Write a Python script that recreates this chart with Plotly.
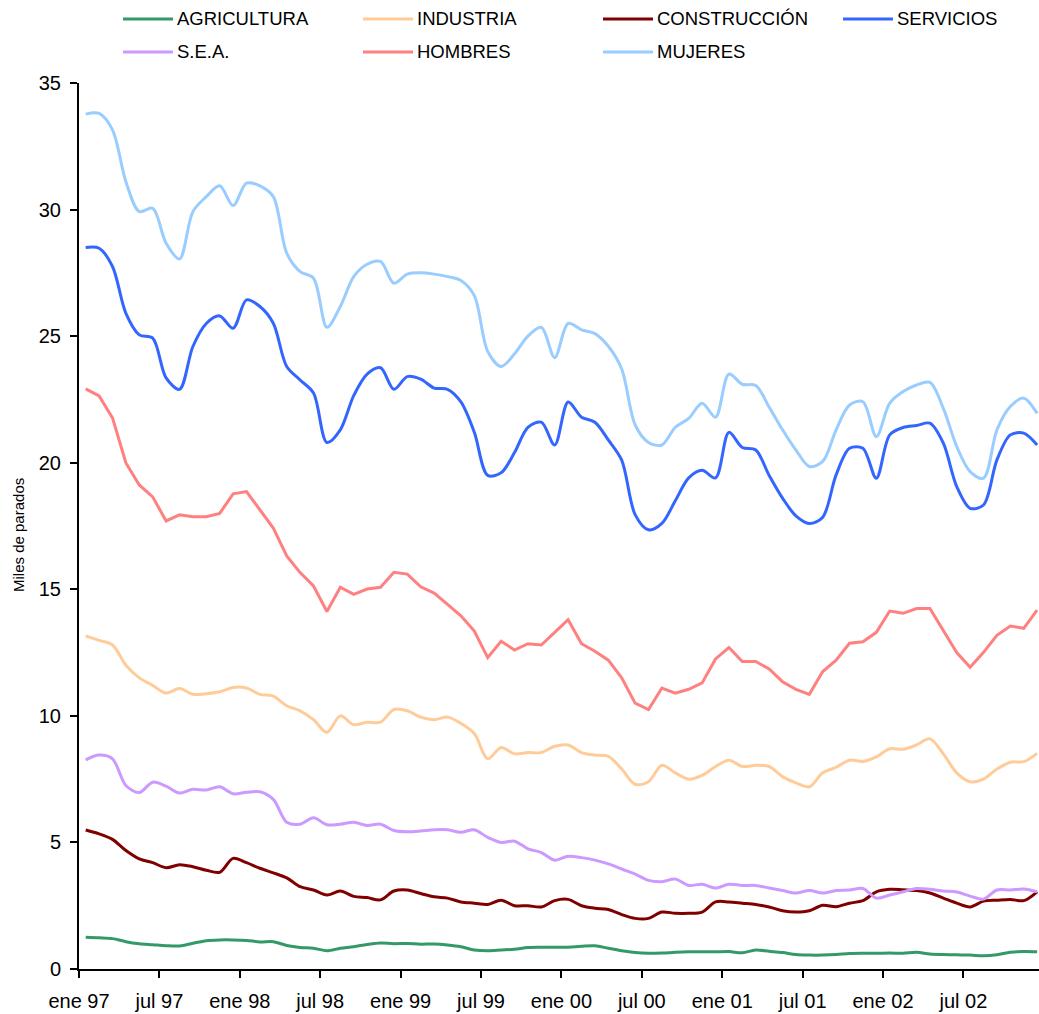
import plotly.graph_objects as go

meses = ["ene", "feb", "mar", "abr", "may", "jun", "jul", "ago", "sep", "oct", "nov", "dic"]
anios = ["97", "98", "99", "00", "01", "02"]
categorias = [f"{m} {a}" for a in anios for m in meses]
tick_labels = ["ene 97", "jul 97", "ene 98", "jul 98", "ene 99", "jul 99",
               "ene 00", "jul 00", "ene 01", "jul 01", "ene 02", "jul 02"]

agricultura = [1.25, 1.23, 1.2, 1.08, 1.0, 0.96, 0.92, 0.91, 1.02, 1.12, 1.15, 1.15,
               1.13, 1.07, 1.08, 0.93, 0.85, 0.82, 0.72, 0.82, 0.88, 0.97, 1.03, 1.0,
               1.01, 0.98, 0.99, 0.95, 0.88, 0.75, 0.72, 0.75, 0.78, 0.85, 0.86, 0.86,
               0.86, 0.9, 0.92, 0.82, 0.72, 0.65, 0.62, 0.63, 0.66, 0.68, 0.68, 0.68,
               0.69, 0.64, 0.75, 0.7, 0.65, 0.57, 0.55, 0.55, 0.57, 0.61, 0.62, 0.62,
               0.63, 0.62, 0.66, 0.59, 0.57, 0.56, 0.55, 0.52, 0.56, 0.66, 0.69, 0.68]
industria = [13.16, 12.98, 12.8, 12.0, 11.5, 11.2, 10.9, 11.08, 10.85, 10.87, 10.95, 11.12,
             11.1, 10.85, 10.78, 10.4, 10.2, 9.85, 9.35, 10.0, 9.65, 9.75, 9.75, 10.25,
             10.2, 9.95, 9.85, 9.95, 9.7, 9.3, 8.3, 8.75, 8.5, 8.55, 8.55, 8.8,
             8.85, 8.55, 8.45, 8.4, 7.9, 7.3, 7.4, 8.05, 7.75, 7.5, 7.65, 8.0,
             8.25, 8.0, 8.05, 8.0, 7.6, 7.35, 7.2, 7.75, 7.97, 8.25, 8.2, 8.38,
             8.7, 8.68, 8.85, 9.09, 8.5, 7.75, 7.4, 7.5, 7.9, 8.17, 8.19, 8.52]
construccion = [5.49, 5.34, 5.12, 4.68, 4.35, 4.2, 4.0, 4.12, 4.04, 3.9, 3.82, 4.37,
                4.2, 3.98, 3.8, 3.6, 3.25, 3.12, 2.92, 3.08, 2.87, 2.82, 2.73, 3.08,
                3.12, 2.98, 2.85, 2.8, 2.65, 2.6, 2.55, 2.72, 2.5, 2.5, 2.45, 2.7,
                2.75, 2.5, 2.4, 2.35, 2.15, 2.0, 2.0, 2.25, 2.2, 2.2, 2.25, 2.65,
                2.65, 2.6, 2.55, 2.45, 2.3, 2.25, 2.3, 2.52, 2.46, 2.6, 2.7, 3.05,
                3.15, 3.13, 3.1, 3.0, 2.8, 2.6, 2.45, 2.68, 2.72, 2.75, 2.7, 3.05]
servicios = [28.5, 28.47, 27.75, 25.9, 25.05, 24.92, 23.35, 22.9, 24.59, 25.5, 25.8, 25.31,
             26.43, 26.17, 25.51, 23.8, 23.27, 22.75, 20.8, 21.3, 22.65, 23.5, 23.75, 22.9,
             23.4, 23.3, 22.95, 22.9, 22.4, 21.2, 19.5, 19.6, 20.4, 21.4, 21.6, 20.7,
             22.4, 21.8, 21.6, 20.9, 20.1, 17.95, 17.35, 17.6, 18.5, 19.4, 19.7, 19.4,
             21.2, 20.6, 20.5, 19.5, 18.6, 17.9, 17.6, 17.85, 19.52, 20.57, 20.57, 19.39,
             21.1, 21.39, 21.47, 21.56, 20.77, 19.06, 18.2, 18.33, 20.11, 21.1, 21.17, 20.7]
sea = [8.26, 8.45, 8.3, 7.25, 6.97, 7.38, 7.22, 6.95, 7.1, 7.07, 7.2, 6.92,
       6.98, 7.0, 6.7, 5.8, 5.72, 5.97, 5.7, 5.72, 5.8, 5.67, 5.72, 5.47,
       5.42, 5.45, 5.5, 5.5, 5.4, 5.5, 5.2, 5.0, 5.05, 4.75, 4.6, 4.3,
       4.45, 4.4, 4.3, 4.15, 3.95, 3.75, 3.5, 3.45, 3.55, 3.3, 3.35, 3.2,
       3.35, 3.3, 3.3, 3.2, 3.1, 3.0, 3.1, 3.0, 3.1, 3.12, 3.18, 2.8,
       2.92, 3.05, 3.18, 3.15, 3.08, 3.04, 2.88, 2.76, 3.12, 3.12, 3.16, 3.05]
hombres = [22.92, 22.64, 21.77, 19.99, 19.12, 18.65, 17.7, 17.94, 17.87, 17.87, 18.0, 18.77,
           18.86, 18.14, 17.42, 16.32, 15.66, 15.13, 14.12, 15.08, 14.8, 15.01, 15.08, 15.67,
           15.6, 15.1, 14.85, 14.4, 13.95, 13.35, 12.3, 12.95, 12.6, 12.85, 12.8, 13.3,
           13.8, 12.85, 12.55, 12.2, 11.5, 10.5, 10.25, 11.1, 10.9, 11.05, 11.3, 12.25,
           12.7, 12.15, 12.15, 11.85, 11.35, 11.05, 10.85, 11.75, 12.2, 12.87, 12.93, 13.3,
           14.14, 14.05, 14.24, 14.24, 13.37, 12.5, 11.92, 12.51, 13.18, 13.55, 13.46, 14.18]
mujeres = [33.77, 33.8, 33.15, 31.1, 29.92, 30.05, 28.67, 28.05, 29.92, 30.51, 30.94, 30.16,
           31.04, 30.94, 30.51, 28.28, 27.55, 27.29, 25.35, 26.17, 27.35, 27.84, 27.95, 27.09,
           27.45, 27.5, 27.45, 27.35, 27.2, 26.6, 24.4, 23.8, 24.3, 25.0, 25.35, 24.15,
           25.5, 25.25, 25.1, 24.6, 23.7, 21.5, 20.8, 20.7, 21.4, 21.75, 22.35, 21.8,
           23.5, 23.1, 23.05, 22.2, 21.3, 20.5, 19.85, 20.05, 21.3, 22.28, 22.41, 21.03,
           22.35, 22.81, 23.07, 23.17, 22.15, 20.64, 19.65, 19.39, 21.3, 22.22, 22.55, 21.95]

series = [
    ("AGRICULTURA", agricultura, "#339966", "spline"),
    ("INDUSTRIA", industria, "#FFCC99", "spline"),
    ("CONSTRUCCIÓN", construccion, "#800000", "spline"),
    ("SERVICIOS", servicios, "#3366FF", "spline"),
    ("S.E.A.", sea, "#CC99FF", "spline"),
    ("HOMBRES", hombres, "#FF8080", "linear"),
    ("MUJERES", mujeres, "#99CCFF", "spline"),
]

FONT = "Liberation Sans, Arial, sans-serif"
W, H = 1039, 1014
ML, MT, MB, MR = 79, 83, 45, 0
PW = W - ML - MR
PH = H - MT - MB

x_idx = list(range(len(categorias)))
fig = go.Figure()
for name, vals, color, shape in series:
    fig.add_trace(go.Scatter(
        x=x_idx, y=vals, mode="lines", name=name,
        line=dict(color=color, width=3, shape=shape, smoothing=0.9),
        showlegend=False, hovertext=categorias,
    ))

# custom legend (two rows, four columns); page pixel coords -> paper coords
def px2paper_x(px):
    return (px - ML) / PW

def px2paper_y(py):
    return (H - MB - py) / PH

shapes = []
annotations = []
for k, (name, vals, color, shape) in enumerate(series):
    row, col = divmod(k, 4)
    x0 = 123 + 240 * col
    y0 = 19 + 33 * row
    shapes.append(dict(type="line", xref="paper", yref="paper",
                       x0=px2paper_x(x0), x1=px2paper_x(x0 + 50),
                       y0=px2paper_y(y0), y1=px2paper_y(y0),
                       line=dict(color=color, width=3)))
    annotations.append(dict(text=name, xref="paper", yref="paper",
                            x=px2paper_x(x0 + 52), y=px2paper_y(y0),
                            xanchor="left", yanchor="middle", showarrow=False,
                            font=dict(family=FONT, size=18.5, color="#000000")))

annotations.append(dict(text="Miles de parados", xref="paper", yref="paper",
                        x=px2paper_x(18), y=px2paper_y(535), textangle=-90,
                        xanchor="center", yanchor="middle", showarrow=False,
                        font=dict(family=FONT, size=15, color="#000000")))

tickvals = [-0.5 + 6 * k for k in range(len(tick_labels))]

fig.update_layout(
    width=W, height=H,
    margin=dict(l=ML, r=MR, t=MT, b=MB, pad=0),
    paper_bgcolor="white", plot_bgcolor="white",
    font=dict(family=FONT, color="#000000"),
    shapes=shapes, annotations=annotations,
    xaxis=dict(range=[-0.5, 71.14], tickmode="array", tickvals=tickvals,
               ticktext=tick_labels, ticks="outside", ticklen=7, tickwidth=2,
               tickcolor="black", showline=True, linecolor="black", linewidth=2,
               showgrid=False, zeroline=False, tickfont=dict(size=20),
               ticklabelstandoff=6),
    yaxis=dict(range=[0, 35], tickmode="array", tickvals=[0, 5, 10, 15, 20, 25, 30, 35],
               ticks="outside", ticklen=7, tickwidth=2, tickcolor="black",
               showline=True, linecolor="black", linewidth=2, showgrid=False,
               zeroline=False, tickfont=dict(size=20), ticklabelstandoff=5),
    showlegend=False,
)

fig.write_html(
    "out.html",
    config={"displayModeBar": False},
    post_script="document.body.style.margin='0';document.body.style.overflow='hidden';",
)
